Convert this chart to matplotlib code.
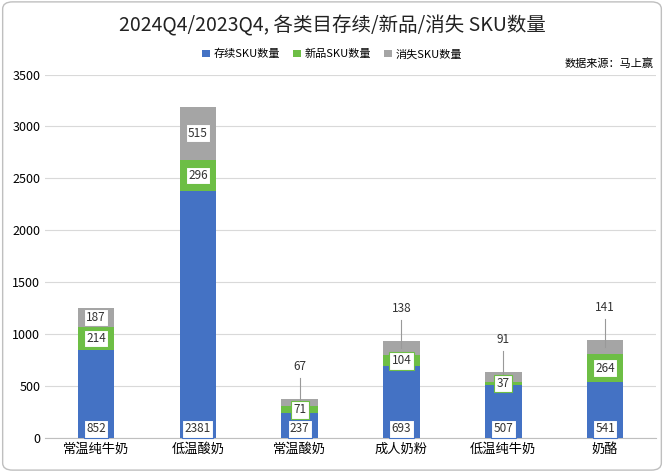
import matplotlib
matplotlib.use("Agg")
import matplotlib.pyplot as plt
from matplotlib.patches import FancyBboxPatch

plt.rcParams['font.family'] = ['Noto Sans CJK SC']

categories = ["常温纯牛奶", "低温酸奶", "常温酸奶", "成人奶粉", "低温纯牛奶", "奶酪"]
existing = [852, 2381, 237, 693, 507, 541]
new = [214, 296, 71, 104, 37, 264]
gone = [187, 515, 67, 138, 91, 141]

c_blue, c_green, c_gray = "#4472C4", "#6DBE45", "#A5A5A5"

fig = plt.figure(figsize=(6.64, 4.72), dpi=100)
ax = fig.add_axes([0.068, 0.072, 0.92, 0.77])
x = list(range(len(categories)))
w = 0.36
ax.bar(x, existing, w, color=c_blue, label="存续SKU数量", zorder=3)
ax.bar(x, new, w, bottom=existing, color=c_green, label="新品SKU数量", zorder=3)
bot2 = [a + b for a, b in zip(existing, new)]
ax.bar(x, gone, w, bottom=bot2, color=c_gray, label="消失SKU数量", zorder=3)

box = lambda ec: dict(boxstyle="square,pad=0.2", fc="white", ec=ec, lw=0.8)
for i in x:
    ax.text(i, 90, str(existing[i]), ha="center", va="center", fontsize=8.5, color="#333", bbox=box(c_blue), zorder=5)
    ax.text(i, existing[i] + new[i] / 2, str(new[i]), ha="center", va="center", fontsize=8.5, color="#333", bbox=box(c_green), zorder=5)
    top = bot2[i] + gone[i]
    if gone[i] >= 180:
        ax.text(i, bot2[i] + gone[i] / 2, str(gone[i]), ha="center", va="center", fontsize=8.5, color="#333", bbox=box(c_gray), zorder=5)
    else:
        ly = top + 250
        ax.plot([i, i], [bot2[i] + gone[i] / 2, ly - 50], color="#999", lw=0.8, zorder=4)
        ax.text(i, ly, str(gone[i]), ha="center", va="bottom", fontsize=8.5, color="#333", zorder=5)

ax.set_ylim(0, 3500)
ax.set_xlim(-0.5, 5.5)
ax.set_yticks(range(0, 3501, 500))
ax.set_xticks(x)
ax.set_xticklabels(categories, fontsize=9.5)
ax.tick_params(axis='y', labelsize=9, length=0)
ax.tick_params(axis='x', length=0)
ax.grid(axis='y', color="#D9D9D9", lw=0.8, zorder=0)
for s in ["top", "right", "left"]:
    ax.spines[s].set_visible(False)
ax.spines["bottom"].set_color("#BFBFBF")

fig.text(0.5, 0.945, "2024Q4/2023Q4, 各类目存续/新品/消失 SKU数量", ha="center", va="center", fontsize=14, color="#222")
fig.legend(loc="center", bbox_to_anchor=(0.5, 0.885), ncol=3, frameon=False, fontsize=8, handlelength=0.7, handleheight=0.7, columnspacing=1.2, handletextpad=0.3)
fig.text(0.985, 0.865, "数据来源：马上赢", ha="right", va="center", fontsize=8)
fig.patches.append(FancyBboxPatch((0.004, 0.004), 0.992, 0.992, boxstyle="round,pad=0,rounding_size=0.015", transform=fig.transFigure, fc="none", ec="#BFBFBF", lw=1))
fig.savefig("out.png", dpi=100)
